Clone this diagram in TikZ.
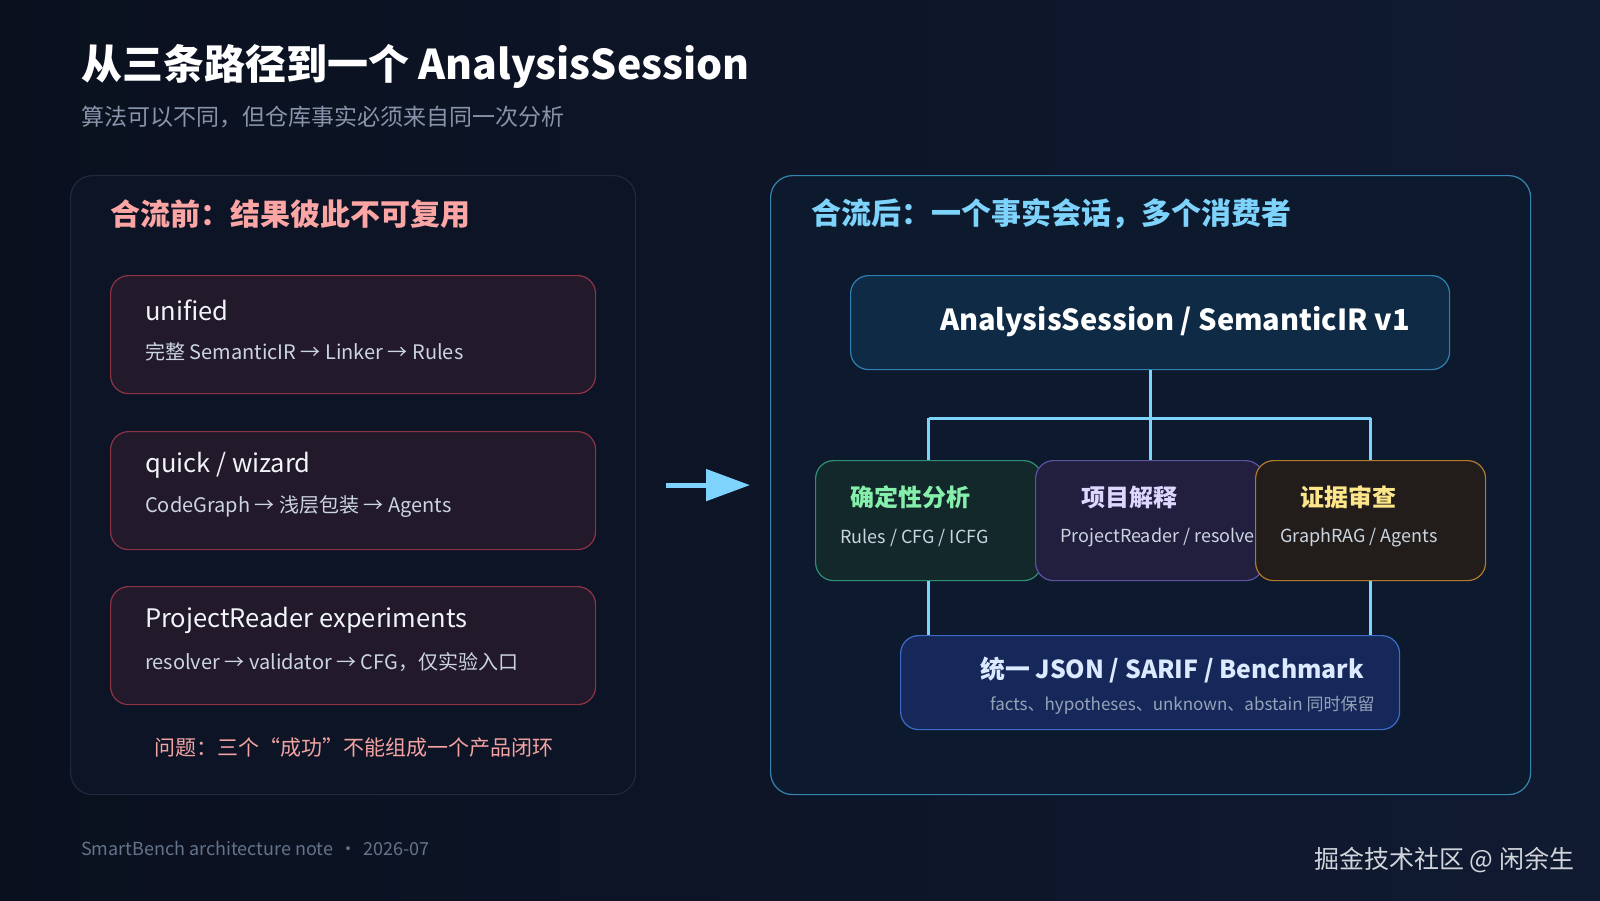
\documentclass[tikz,border=0pt]{standalone}
\usepackage{fontspec}
\setmainfont{Noto Sans CJK SC}
\usetikzlibrary{arrows.meta}

\definecolor{bgA}{HTML}{0A101E}
\definecolor{bgC}{HTML}{101A31}
\definecolor{linkblue}{HTML}{7DD3FC}
\definecolor{warnpink}{HTML}{FCA5A5}
\definecolor{problempink}{HTML}{F4A3A3}
\definecolor{subgray}{HTML}{CBD5E1}
\definecolor{titlewhite}{HTML}{F1F5F9}
\definecolor{leadgray}{HTML}{8794AA}
\definecolor{footgray}{HTML}{64748B}
\definecolor{markgray}{HTML}{D1D5DB}
\definecolor{beforefill}{HTML}{0C1425}
\definecolor{beforeline}{HTML}{1F2A3C}
\definecolor{afterfill}{HTML}{0D1A2D}
\definecolor{afterline}{HTML}{3485B0}
\definecolor{pathfill}{HTML}{22192A}
\definecolor{pathline}{HTML}{8C3446}
\definecolor{sessionfill}{HTML}{0E2A45}
\definecolor{sessionline}{HTML}{2F7FB5}
\definecolor{detfill}{HTML}{12282A}
\definecolor{detline}{HTML}{2F8F72}
\definecolor{dettext}{HTML}{86EFAC}
\definecolor{projfill}{HTML}{221E3E}
\definecolor{projline}{HTML}{5B53A0}
\definecolor{projtext}{HTML}{DDD6FE}
\definecolor{evidfill}{HTML}{221D1A}
\definecolor{evidline}{HTML}{B07A2A}
\definecolor{evidtext}{HTML}{FDE68A}
\definecolor{unifyfill}{HTML}{16285A}
\definecolor{unifyline}{HTML}{3A6BC8}
\definecolor{unifytext}{HTML}{DBEAFE}
\definecolor{unifysub}{HTML}{94A3B8}

\begin{document}
\begin{tikzpicture}[x=1pt,y=-1pt,
  box/.style={rounded corners=18pt, line width=1.2pt, inner sep=0pt, anchor=north west},
  pathbox/.style={box, fill=pathfill, draw=pathline, minimum width=485pt, minimum height=118pt},
  consumer/.style={box, minimum width=227pt, minimum height=120pt},
  link/.style={draw=linkblue, line width=3pt},
  pathtitle/.style={anchor=west, inner sep=0pt, text=titlewhite, font=\fontsize{25.5}{30}\selectfont},
  pathsub/.style={anchor=west, inner sep=0pt, text=subgray, font=\fontsize{20}{24}\selectfont},
  kind/.style={anchor=west, inner sep=0pt, font=\bfseries\fontsize{24}{28}\selectfont},
  kindsub/.style={anchor=west, inner sep=0pt, text=subgray, font=\fontsize{18}{22}\selectfont}]
  \useasboundingbox (0,0) rectangle (1600,900);
  \shade[left color=bgA, right color=bgC] (0,0) rectangle (1600,900);

  \node[anchor=west, inner sep=0pt, text=white, font=\bfseries\fontsize{41}{48}\selectfont] (title) at (81,66) {从三条路径到一个 AnalysisSession};
  \node[anchor=west, inner sep=0pt, text=leadgray, font=\fontsize{23}{28}\selectfont] (subtitle) at (81,117) {算法可以不同，但仓库事实必须来自同一次分析};

  % before
  \node[box, rounded corners=22pt, fill=beforefill, draw=beforeline, minimum width=565pt, minimum height=619pt] (before) at (70,175) {};
  \node[anchor=west, inner sep=0pt, text=warnpink, font=\bfseries\fontsize{30}{34}\selectfont] (beforeT) at (110,214) {合流前：结果彼此不可复用};
  \node[pathbox] (unified) at (110,275) {};
  \node[pathtitle] at (145,310) {unified};
  \node[pathsub] at (145,352) {完整 SemanticIR → Linker → Rules};
  \node[pathbox] (quick) at (110,431) {};
  \node[pathtitle] at (145,465) {quick / wizard};
  \node[pathsub] at (145,507) {CodeGraph → 浅层包装 → Agents};
  \node[pathbox] (reader) at (110,586) {};
  \node[pathtitle] at (145,620) {ProjectReader experiments};
  \node[pathsub] at (145,662) {resolver → validator → CFG，仅实验入口};
  \node[inner sep=0pt, text=problempink, font=\fontsize{21}{24}\selectfont] (problem) at (354,748) {问题：三个“成功”不能组成一个产品闭环};

  % after
  \node[box, rounded corners=22pt, fill=afterfill, draw=afterline, minimum width=760pt, minimum height=619pt] (after) at (770,175) {};
  \draw[draw=linkblue, line width=5pt, -{Triangle[length=44pt, width=31pt]}] ([xshift=30pt]before.east) -- ([xshift=-20pt]after.west);
  \node[anchor=west, inner sep=0pt, text=linkblue, font=\bfseries\fontsize{30}{34}\selectfont] (afterT) at (811,214) {合流后：一个事实会话，多个消费者};

  \node[box, fill=sessionfill, draw=sessionline, minimum width=599pt, minimum height=94pt] (session) at (850,275) {};
  \node[inner sep=0pt, text=white, font=\bfseries\fontsize{29}{34}\selectfont] at (1175,322) {AnalysisSession / SemanticIR v1};

  \node[consumer, fill=detfill, draw=detline, minimum width=226pt] (det) at (815,460) {};
  \node[kind, text=dettext] at (850,497) {确定性分析};
  \node[kindsub] at (840,538) {Rules / CFG / ICFG};
  \node[consumer, fill=projfill, draw=projline, minimum width=228pt] (proj) at (1035,460) {};
  \node[kind, text=projtext] at (1081,497) {项目解释};
  \node[kindsub] at (1060,538) {ProjectReader / resolver};
  \node[consumer, fill=evidfill, draw=evidline, minimum width=230pt] (evid) at (1255,460) {};
  \node[kind, text=evidtext] at (1300,497) {证据审查};
  \node[kindsub] at (1280,538) {GraphRAG / Agents};

  \node[box, fill=unifyfill, draw=unifyline, minimum width=499pt, minimum height=94pt] (unify) at (900,635) {};
  \node[anchor=west, inner sep=0pt, text=unifytext, font=\bfseries\fontsize{24.8}{30}\selectfont] at (980,670) {统一 JSON / SARIF / Benchmark};
  \node[anchor=west, inner sep=0pt, text=unifysub, font=\fontsize{17}{20}\selectfont] at (990,705) {facts、hypotheses、unknown、abstain 同时保留};

  \coordinate (split) at (1150,418);
  \draw[link] (session.south) -- (session.south |- split);
  \draw[link] (det.north |- split) -- (evid.north |- split);
  \draw[link] (det.north |- split) -- (det.north);
  \draw[link] (session.south |- split) -- (session.south |- proj.north);
  \draw[link] (evid.north |- split) -- (evid.north);
  \draw[link] (det.south) -- (det.south |- unify.north);
  \draw[link] (evid.south) -- (evid.south |- unify.north);

  \node[anchor=west, inner sep=0pt, text=footgray, font=\fontsize{18}{22}\selectfont] (footer) at (81,848) {SmartBench architecture note\hspace{6pt}•\hspace{6pt}2026-07};
  \node[anchor=west, inner sep=0pt, text=markgray, font=\fontsize{25}{28}\selectfont] (mark) at (1314,860) {掘金技术社区 @ 闲余生};
\end{tikzpicture}
\end{document}
